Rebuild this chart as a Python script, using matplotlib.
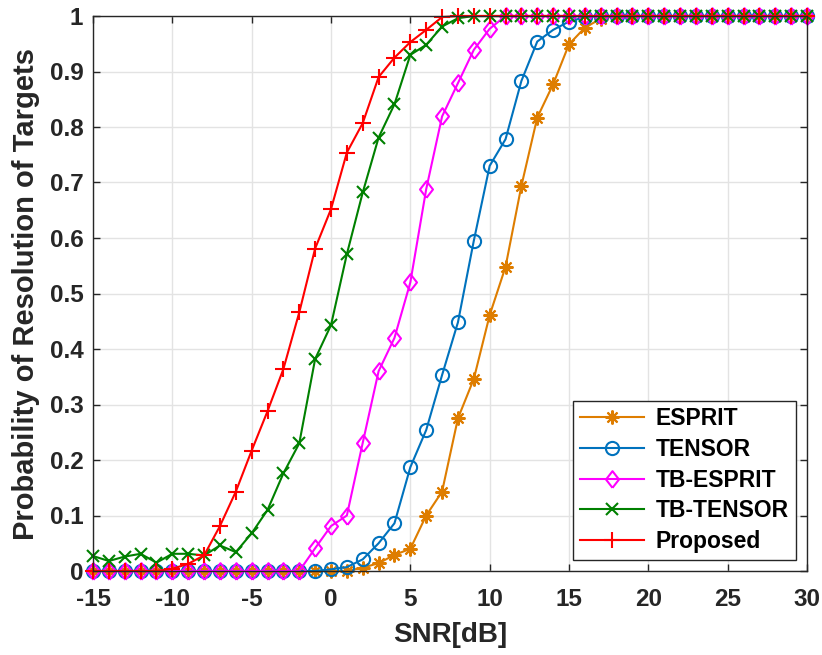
import numpy as np
import matplotlib
matplotlib.use("Agg")
import matplotlib.pyplot as plt

# SNR axis
snr = np.arange(-15, 31)

esprit = [0] * 17 + [0.006, 0.014, 0.029, 0.04, 0.10, 0.143, 0.275, 0.346, 0.461,
                     0.548, 0.694, 0.817, 0.877, 0.949, 0.979, 0.995] + [1] * 13
tensor = [0] * 15 + [0.003, 0.007, 0.021, 0.05, 0.086, 0.187, 0.254, 0.353, 0.448,
                     0.595, 0.73, 0.778, 0.883, 0.954, 0.975, 0.99, 0.998] + [1] * 14
tb_esprit = [0] * 14 + [0.041, 0.081, 0.10, 0.231, 0.36, 0.42, 0.52, 0.688, 0.819,
                        0.879, 0.939, 0.977] + [1] * 20
tb_tensor = [0.027, 0.018, 0.026, 0.031, 0.015, 0.031, 0.031, 0.028, 0.046, 0.034,
             0.068, 0.11, 0.176, 0.23, 0.382, 0.443, 0.571, 0.682, 0.781, 0.841,
             0.930, 0.948, 0.981, 0.996] + [1] * 22
proposed = [0] * 5 + [0.004, 0.013, 0.028, 0.081, 0.143, 0.217, 0.288, 0.364, 0.466,
                      0.581, 0.652, 0.754, 0.807, 0.89, 0.925, 0.953, 0.975, 0.998] + [1] * 23

labels = ["ESPRIT", "TENSOR", "TB-ESPRIT", "TB-TENSOR", "Proposed"]
colors = ["#DE7D00", "#0072BD", "#FF00FF", "#008000", "#FF0000"]

plt.rcParams['font.family'] = ['Liberation Sans', 'DejaVu Sans']
plt.rcParams['font.weight'] = 'bold'
plt.rcParams['axes.unicode_minus'] = False

diamond = [(0, -1), (0.78, 0), (0, 1), (-0.78, 0), (0, -1)]
markers = [(8, 2, 0), 'o', diamond, 'x', '+']
msizes = [10, 9.5, 12, 8, 11]

fig = plt.figure(figsize=(8.22, 6.55), dpi=100)
ax = fig.add_axes([93 / 822, 1 - 571 / 655, 714 / 822, 555 / 655])

series = [esprit, tensor, tb_esprit, tb_tensor, proposed]
for y, lab, c, m, ms in zip(series, labels, colors, markers, msizes):
    ax.plot(snr, y, color=c, marker=m, markersize=ms, markerfacecolor='none',
            markeredgewidth=1.5, linewidth=1.5, label=lab, clip_on=False)

ax.set_xlim(-15, 30)
ax.set_ylim(0, 1)
ax.set_xticks(np.arange(-15, 31, 5))
ax.set_yticks(np.arange(0, 1.01, 0.1))
ax.set_yticklabels(["0", "0.1", "0.2", "0.3", "0.4", "0.5", "0.6", "0.7", "0.8", "0.9", "1"])

ax.grid(True, color='#E3E3E3', linewidth=1)
ax.set_axisbelow(True)
for s in ax.spines.values():
    s.set_color('#262626')
    s.set_linewidth(1)
ax.tick_params(axis='both', direction='in', length=5, width=1, color='#262626',
               labelcolor='#262626', labelsize=17.5, top=True, right=True)
ax.tick_params(axis='x', pad=12)
ax.tick_params(axis='y', pad=7)

ax.set_xlabel("SNR[dB]", fontsize=20, fontweight='bold', color='#262626', labelpad=8)
ax.set_ylabel("Probability of Resolution of Targets", fontsize=21, fontweight='bold',
              color='#262626', labelpad=7)

leg = ax.legend(loc='lower right', fontsize=16.5, frameon=True, fancybox=False,
                edgecolor='#262626', framealpha=1, handlelength=2.8,
                borderaxespad=0.5, labelspacing=0.33, handletextpad=0.5,
                borderpad=0.3)
leg.get_frame().set_linewidth(1)

fig.savefig("out.png", dpi=100)
